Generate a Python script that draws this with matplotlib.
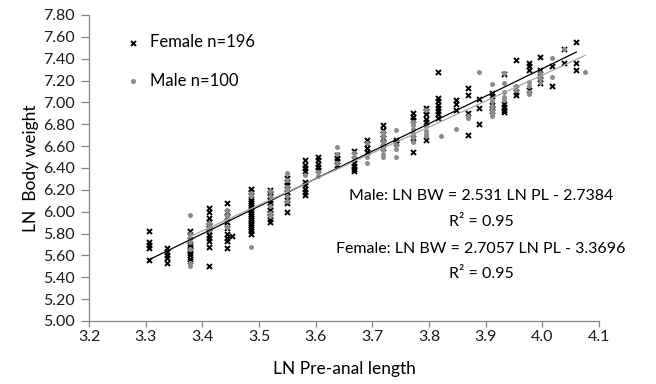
import matplotlib
matplotlib.use("Agg")
import matplotlib.pyplot as plt
import numpy as np
from matplotlib.ticker import FormatStrFormatter, MultipleLocator

plt.rcParams['font.family'] = ['Lato', 'DejaVu Sans']

# ---- data ----
female_x_cols = [3.305, 3.338, 3.378, 3.412, 3.444, 3.453, 3.486, 3.519, 3.550, 3.582,
                 3.604, 3.637, 3.668, 3.690, 3.719, 3.742, 3.771, 3.795, 3.816, 3.847,
                 3.868, 3.889, 3.911, 3.932, 3.954, 3.976, 3.996, 4.017, 4.038, 4.060]
female_y_cols = [
    [5.82, 5.72, 5.70, 5.67, 5.56],
    [5.665, 5.635, 5.605, 5.575, 5.53],
    [5.82, 5.78, 5.74, 5.70, 5.68, 5.65, 5.62, 5.60, 5.57, 5.55],
    [6.03, 6.00, 5.94, 5.91, 5.88, 5.85, 5.82, 5.79, 5.76, 5.73, 5.68, 5.50],
    [6.08, 6.00, 5.95, 5.91, 5.85, 5.80, 5.76, 5.73, 5.67],
    [5.78],
    [6.21, 6.18, 6.15, 6.12, 6.10, 6.08, 6.06, 6.04, 6.02, 6.00, 5.98, 5.96, 5.94,
     5.92, 5.90, 5.88, 5.86, 5.84, 5.82, 5.80],
    [6.20, 6.17, 6.14, 6.11, 6.08, 6.05, 6.02, 5.99, 5.96, 5.93, 5.91],
    [6.31, 6.27, 6.24, 6.21, 6.18, 6.14, 6.11, 6.08, 6.00],
    [6.47, 6.43, 6.40, 6.37, 6.27, 6.24, 6.21, 6.18, 6.15],
    [6.50, 6.47, 6.44, 6.41, 6.38],
    [6.52, 6.49, 6.46, 6.43],
    [6.56, 6.48, 6.45, 6.42, 6.39, 6.37],
    [6.66, 6.62, 6.58, 6.55],
    [6.79, 6.75, 6.71, 6.67, 6.63, 6.58],
    [6.66, 6.63],
    [6.90, 6.87, 6.84, 6.67, 6.55],
    [6.95, 6.92, 6.89, 6.85, 6.82, 6.66],
    [7.28, 7.04, 7.01, 6.98, 6.95, 6.92, 6.89, 6.86],
    [7.02, 6.99, 6.93],
    [7.13, 7.07, 6.90, 6.70],
    [7.03, 6.95, 6.80],
    [7.09, 7.06, 6.98, 6.95, 6.92],
    [7.26, 6.99, 6.96, 6.93, 6.91],
    [7.39, 7.13, 7.10, 7.07],
    [7.36, 7.33, 7.30, 7.11],
    [7.42, 7.30, 7.24, 7.21, 7.18],
    [7.33, 7.15],
    [7.49, 7.36],
    [7.55, 7.36, 7.30],
]

male_x_cols = [3.378, 3.412, 3.444, 3.486, 3.519, 3.550, 3.582, 3.604, 3.637, 3.668,
               3.690, 3.719, 3.742, 3.771, 3.795, 3.821, 3.847, 3.868, 3.889, 3.911,
               3.932, 3.954, 3.976, 3.996, 4.017, 4.038, 4.076]
male_y_cols = [
    [5.97, 5.80, 5.76, 5.72, 5.66, 5.53, 5.50],
    [5.90, 5.86, 5.83],
    [6.02, 5.97, 5.92, 5.86],
    [6.17, 6.14, 5.68],
    [6.19, 6.14, 6.05, 5.99, 5.96],
    [6.35, 6.29, 6.23, 6.20, 6.14, 6.10],
    [6.34],
    [6.36, 6.33],
    [6.59, 6.53, 6.45],
    [6.54, 6.50],
    [6.63, 6.50, 6.45],
    [6.73, 6.69, 6.65, 6.61, 6.57, 6.53, 6.50],
    [6.75, 6.61, 6.57, 6.50],
    [6.82, 6.79, 6.76, 6.72, 6.68, 6.64],
    [6.93, 6.78, 6.74, 6.71, 6.69],
    [6.69],
    [6.76],
    [6.88, 6.86],
    [7.28],
    [7.17, 7.01, 6.97, 6.93, 6.90, 6.88],
    [7.27, 7.18, 7.10, 7.05, 7.02],
    [7.15, 7.11],
    [7.19, 7.15, 7.10, 7.08],
    [7.27, 7.22, 7.19],
    [7.41, 7.23],
    [7.49],
    [7.28],
]

female_label = "Female n=196"
male_label = "Male n=100"
male_eq = "Male: LN BW = 2.531 LN PL - 2.7384"
female_eq = "Female: LN BW = 2.7057 LN PL - 3.3696"
r2_text = "R² = 0.95"
x_label = "LN Pre-anal length"
y_label = "LN  Body weight"

def flatten(xc, yc):
    xs, ys = [], []
    for x, col in zip(xc, yc):
        for y in col:
            xs.append(x)
            ys.append(y)
    return np.array(xs), np.array(ys)

fx, fy = flatten(female_x_cols, female_y_cols)
mx, my = flatten(male_x_cols, male_y_cols)

fig = plt.figure(figsize=(6.56, 3.84), dpi=100)
ax = fig.add_axes([89/656, 1-321/384, (599-89)/656, (321-15)/384])

axis_col = '#868686'
ax.scatter(fx, fy, marker='x', s=13, c='black', linewidths=1.4, label=female_label, zorder=3)
ax.scatter(mx, my, marker='o', s=13, c='#8c8c8c', linewidths=0, label=male_label, zorder=3)

# trend lines fitted to the plotted data
for xs, ys, col in [(fx, fy, 'black'), (mx, my, '#a6a6a6')]:
    k, b = np.polyfit(xs, ys, 1)
    xl = np.array([xs.min(), xs.max()])
    ax.plot(xl, k*xl + b, color=col, lw=0.9, zorder=4)

ax.set_xlim(3.2, 4.1)
ax.set_ylim(5.0, 7.8)
ax.xaxis.set_major_locator(MultipleLocator(0.1))
ax.yaxis.set_major_locator(MultipleLocator(0.2))
ax.xaxis.set_major_formatter(FormatStrFormatter('%.1f'))
ax.yaxis.set_major_formatter(FormatStrFormatter('%.2f'))

for s in ['top', 'right']:
    ax.spines[s].set_visible(False)
for s in ['left', 'bottom']:
    ax.spines[s].set_color(axis_col)
    ax.spines[s].set_linewidth(0.9)
ax.tick_params(axis='both', direction='out', width=0.9, color=axis_col,
               labelsize=11.5, labelcolor='#1a1a1a')
ax.tick_params(axis='x', length=4, pad=2.5)
ax.tick_params(axis='y', length=6, pad=4)

ax.set_xlabel(x_label, fontsize=12.5, labelpad=12)
ax.set_ylabel(y_label, fontsize=12.5, labelpad=3)

leg = ax.legend(loc='upper left', bbox_to_anchor=(0.051, 0.965), frameon=False,
                fontsize=12, labelspacing=1.35, handletextpad=0.4,
                handlelength=1.2, borderpad=0, scatterpoints=1)

ax.text(0.769, 0.408, male_eq, transform=ax.transAxes, ha='center', va='center', fontsize=11.5)
ax.text(0.769, 0.325, r2_text, transform=ax.transAxes, ha='center', va='center', fontsize=11.5)
ax.text(0.769, 0.236, female_eq, transform=ax.transAxes, ha='center', va='center', fontsize=11.5)
ax.text(0.769, 0.152, r2_text, transform=ax.transAxes, ha='center', va='center', fontsize=11.5)

fig.savefig('out.png', dpi=100)
